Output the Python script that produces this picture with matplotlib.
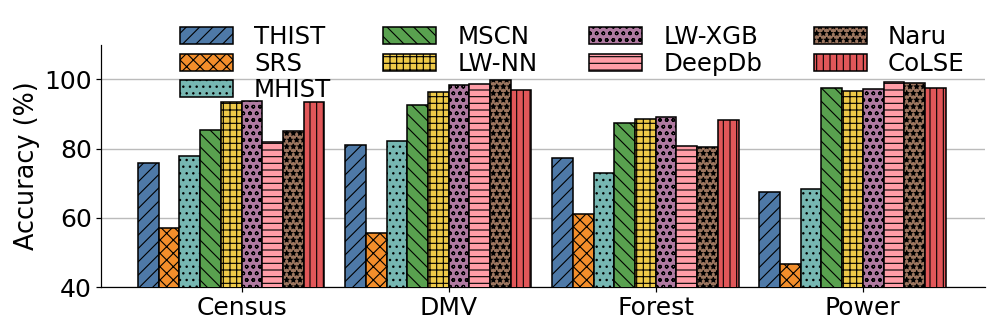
import matplotlib

matplotlib.use("Agg")
import matplotlib.pyplot as plt
import numpy as np

DATASETS = ["Census", "DMV", "Forest", "Power"]
METHODS = ["THIST", "SRS", "MHIST", "MSCN", "LW-NN", "LW-XGB", "DeepDb", "Naru", "CoLSE"]

# accuracy (%) per method, one value per dataset
THIST = [75.9, 81.0, 77.4, 67.4]
SRS = [57.1, 55.7, 61.0, 46.8]
MHIST = [77.8, 82.3, 73.1, 68.3]
MSCN = [85.5, 92.7, 87.5, 97.5]
LW_NN = [93.5, 96.3, 88.7, 96.8]
LW_XGB = [93.8, 98.4, 89.1, 97.3]
DEEPDB = [82.0, 98.7, 80.7, 99.3]
NARU = [85.0, 99.9, 80.5, 99.0]
COLSE = [93.5, 97.0, 88.3, 97.4]

SERIES = [THIST, SRS, MHIST, MSCN, LW_NN, LW_XGB, DEEPDB, NARU, COLSE]

COLORS = ["#4e79a7", "#f28e2b", "#76b7b2", "#59a14f", "#edc948",
          "#b07aa1", "#ff9da7", "#9c755f", "#e15759"]
HATCHES = ["//", "xx", "..", "\\\\", "++", "oo", "--", "**", "||"]

DPI = 80
plt.rcParams["hatch.linewidth"] = 1.0
plt.rcParams["font.family"] = "DejaVu Sans"

fig, ax = plt.subplots(figsize=(997 / DPI, 332 / DPI), dpi=DPI)

x = np.arange(len(DATASETS))
width = 0.1
n = len(METHODS)
for j, (name, vals) in enumerate(zip(METHODS, SERIES)):
    ax.bar(
        x + (j - n / 2) * width,
        vals,
        width=width,
        color=COLORS[j],
        hatch=HATCHES[j],
        edgecolor="black",
        linewidth=1.4,
        label=name,
        zorder=3,
    )

ax.set_ylim(40, 110)
ax.set_xlim(-0.68, 3.59)
ax.set_yticks([40, 60, 80, 100])
ax.set_xticks(x)
ax.set_xticklabels(DATASETS)
ax.tick_params(axis="both", labelsize=22.5, width=1.1, length=4.4)
ax.set_ylabel("Accuracy (%)", fontsize=23)
ax.grid(axis="y", color="#bbbbbb", linewidth=1.25, zorder=0)
ax.set_axisbelow(True)
ax.spines["top"].set_visible(False)
ax.spines["right"].set_visible(False)
for side in ["left", "bottom"]:
    ax.spines[side].set_linewidth(1.1)

fig.legend(
    loc="upper left",
    bbox_to_anchor=(0.158, 0.99),
    ncol=4,
    frameon=False,
    fontsize=22,
    handlelength=2.2,
    handletextpad=0.85,
    columnspacing=2.1,
    labelspacing=0.1,
)

fig.subplots_adjust(left=0.101, right=0.988, top=0.865, bottom=0.135)
fig.savefig("out.png", dpi=DPI)
